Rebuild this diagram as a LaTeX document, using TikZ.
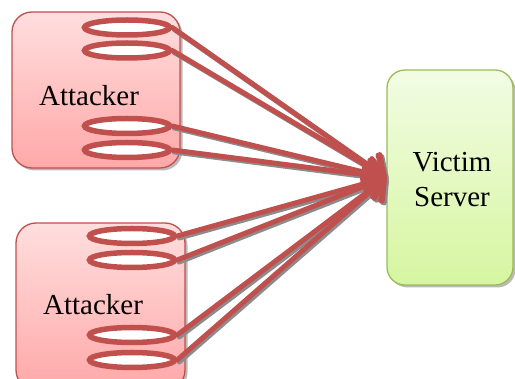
\documentclass[tikz,border=0pt]{standalone}
\usepackage{fontspec}
\newfontfamily\labelfont{Liberation Serif}
\usetikzlibrary{arrows.meta,shadows,shapes.geometric}
\definecolor{redline}{RGB}{192,80,77}
\definecolor{pinktop}{RGB}{255,222,222}
\definecolor{pinkbot}{RGB}{255,168,168}
\definecolor{greenline}{RGB}{155,187,89}
\definecolor{greentop}{RGB}{242,252,228}
\definecolor{greenbot}{RGB}{214,246,160}
\tikzset{
  hostbox/.style={draw=redline, line width=1.3pt, rounded corners=20pt,
    top color=pinktop, bottom color=pinkbot, inner sep=0pt,
    drop shadow={shadow xshift=2.5pt, shadow yshift=-2.5pt, opacity=0.45, fill=black!60}},
  serverbox/.style={draw=greenline, line width=1.3pt, rounded corners=18pt,
    top color=greentop, bottom color=greenbot, inner sep=0pt,
    drop shadow={shadow xshift=2.5pt, shadow yshift=-2.5pt, opacity=0.45, fill=black!60}},
  ring/.style={ellipse, draw=redline, fill=white, line width=5.5pt, inner sep=0pt,
    minimum width=85pt, minimum height=15pt},
  label/.style={font=\labelfont\fontsize{29}{35}\selectfont, align=center, inner sep=0pt},
  headtip/.style={-{Straight Barb[length=16pt, width=30pt, line cap=round, line join=round]}},
  flood/.style={draw=redline, line width=5pt, line cap=round, headtip},
  floodshadow/.style={draw=black!45, line width=5pt, line cap=round, headtip,
    transform canvas={xshift=2pt, yshift=-2pt}}
}
\begin{document}
\begin{tikzpicture}[x=1pt, y=-1pt]
\useasboundingbox (0,0) rectangle (515,379);

% attacker hosts and the server
\node[hostbox, minimum width=168pt, minimum height=156pt] (h1) at (96,90) {};
\node[hostbox, minimum width=169pt, minimum height=167pt] (h2) at (100.5,306.5) {};
\node[serverbox, minimum width=126pt, minimum height=215pt] (srv) at (450,177.5) {};

\node[label] (a1) at (89,96) {Attacker};
\node[label] (a2) at (93,305) {Attacker};
\node[label] (v) at (452,180) {Victim\\Server};

% connection rings on each attacker
\foreach \n/\x/\y in {p1/127/27.5, p2/127/50.5, p3/127/126, p4/127/150,
                       q1/132/236, q2/132/260, q3/132/335, q4/132/360}{
  \node[ring] (\n) at (\x,\y) {};
}

% flood of connections towards the server
\foreach \n in {p1,p2,p3,p4,q1,q2,q3,q4}{
  \draw[floodshadow] (\n.east) -- (srv.west);
}
\foreach \n in {p1,p2,p3,p4,q1,q2,q3,q4}{
  \draw[flood] (\n.east) -- (srv.west);
}
\end{tikzpicture}
\end{document}
